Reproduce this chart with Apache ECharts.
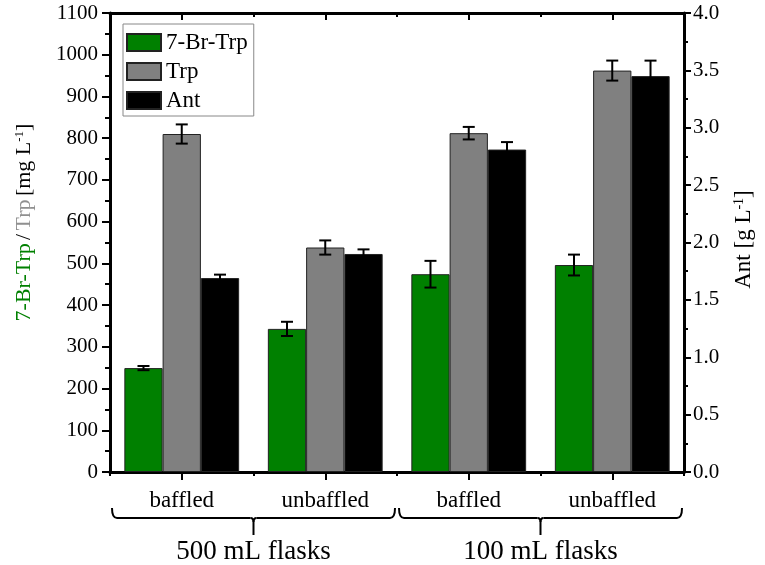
<!DOCTYPE html>
<html>
<head>
<meta charset="utf-8">
<script src="https://cdn.jsdelivr.net/npm/echarts@6.0.0/dist/echarts.min.js"></script>
<style>
  html, body { margin: 0; padding: 0; background: #fff; }
  #chart { width: 765px; height: 565px; }
</style>
</head>
<body>
<div id="chart"></div>
<script>
// data
const categories = ['baffled', 'unbaffled', 'baffled', 'unbaffled'];
const groups = ['500 mL flasks', '100 mL flasks'];
const brTrp = [249, 343, 474, 496];
const brTrpErr = [5, 17, 32, 25];
const trp = [810, 538, 812, 962];
const trpErr = [23, 17, 15, 24];
const ant = [1.69, 1.90, 2.81, 3.45];
const antErr = [0.03, 0.04, 0.065, 0.135];

const FONT = 'Liberation Serif';
const GAP = 0.2; // barCategoryGap

const chart = echarts.init(document.getElementById('chart'));

function errSeries(vals, errs, slot, yIdx) {
  return {
    type: 'custom',
    xAxisIndex: 0,
    yAxisIndex: yIdx,
    z: 5,
    silent: true,
    data: vals.map((v, i) => [i, v - errs[i], v + errs[i]]),
    renderItem(params, api) {
      const i = api.value(0);
      const bw = api.size([1, 0])[0] * (1 - GAP) / 3;
      const x = api.coord([i, 0])[0] + slot * bw;
      const lo = api.coord([i, api.value(1)])[1];
      const hi = api.coord([i, api.value(2)])[1];
      const cap = 6;
      const st = { stroke: '#000', lineWidth: 2 };
      return {
        type: 'group',
        children: [
          { type: 'line', shape: { x1: x, y1: lo, x2: x, y2: hi }, style: st },
          { type: 'line', shape: { x1: x - cap, y1: lo, x2: x + cap, y2: lo }, style: st },
          { type: 'line', shape: { x1: x - cap, y1: hi, x2: x + cap, y2: hi }, style: st }
        ]
      };
    }
  };
}

const barStyle = (c) => ({ color: c, borderColor: '#222', borderWidth: 1 });

const catBase = {
  type: 'category',
  data: categories,
  gridIndex: 0,
  axisLabel: { show: false },
  splitLine: { show: false },
  axisLine: { show: false, onZero: false }
};

chart.setOption({
  backgroundColor: '#fff',
  animation: false,
  textStyle: { fontFamily: FONT },
  grid: { left: 110, right: 81, top: 13, bottom: 93, containLabel: false, outerBoundsMode: 'none' },
  legend: {
    left: 123, top: 24,
    orient: 'vertical',
    itemWidth: 34, itemHeight: 17, itemGap: 6,
    padding: [7, 6, 4, 3],
    borderColor: '#888', borderWidth: 1,
    icon: 'rect',
    textStyle: { fontFamily: FONT, fontSize: 23, color: '#000' },
    data: ['7-Br-Trp', 'Trp', 'Ant']
  },
  xAxis: [
    {
      type: 'category',
      data: categories,
      position: 'bottom',
      axisLine: { show: true, onZero: false, lineStyle: { color: '#000', width: 3 } },
      axisTick: { show: true, alignWithLabel: true, length: 8, lineStyle: { color: '#000', width: 2 } },
      axisLabel: { fontFamily: FONT, fontSize: 23, color: '#000', margin: 17 },
      splitLine: { show: false }
    },
    Object.assign({}, catBase, {
      position: 'bottom',
      axisTick: { show: true, length: 4, lineStyle: { color: '#000', width: 2 } }
    }),
    Object.assign({}, catBase, {
      position: 'top',
      axisLine: { show: true, onZero: false, lineStyle: { color: '#000', width: 3 } },
      axisTick: { show: true, inside: true, alignWithLabel: true, length: 7, lineStyle: { color: '#000', width: 2 } }
    }),
    Object.assign({}, catBase, {
      position: 'top',
      axisTick: { show: true, inside: true, length: 4, lineStyle: { color: '#000', width: 2 } }
    }),
    {
      type: 'category',
      data: groups,
      position: 'bottom',
      offset: 58,
      axisLine: { show: false, onZero: false },
      axisTick: { show: false },
      axisLabel: { fontFamily: FONT, fontSize: 27, color: '#000', margin: 8 },
      splitLine: { show: false }
    }
  ],
  yAxis: [
    {
      type: 'value',
      min: 0, max: 1100, interval: 100,
      axisLine: { show: true, lineStyle: { color: '#000', width: 3 } },
      axisTick: { show: true, length: 8, lineStyle: { color: '#000', width: 2 } },
      minorTick: { show: true, splitNumber: 2, length: 5, lineStyle: { color: '#000', width: 2 } },
      axisLabel: { fontFamily: FONT, fontSize: 21, color: '#000', margin: 12, formatter: (v) => String(v) },
      splitLine: { show: false }
    },
    {
      type: 'value',
      position: 'right',
      min: 0, max: 4, interval: 0.5,
      axisLine: { show: true, lineStyle: { color: '#000', width: 3 } },
      axisTick: { show: true, length: 7, lineStyle: { color: '#000', width: 2 } },
      minorTick: { show: true, splitNumber: 2, length: 4, lineStyle: { color: '#000', width: 2 } },
      axisLabel: {
        fontFamily: FONT, fontSize: 21, color: '#000', margin: 9,
        formatter: (v) => v.toFixed(1)
      },
      splitLine: { show: false }
    }
  ],
  series: [
    { name: '7-Br-Trp', type: 'bar', xAxisIndex: 0, yAxisIndex: 0, data: brTrp,
      barGap: '0%', barCategoryGap: '20%', itemStyle: barStyle('#008000') },
    { name: 'Trp', type: 'bar', xAxisIndex: 0, yAxisIndex: 0, data: trp,
      barGap: '0%', barCategoryGap: '20%', itemStyle: barStyle('#808080') },
    { name: 'Ant', type: 'bar', xAxisIndex: 0, yAxisIndex: 1, data: ant,
      barGap: '0%', barCategoryGap: '20%', itemStyle: barStyle('#000000') },
    errSeries(brTrp, brTrpErr, -1, 0),
    errSeries(trp, trpErr, 0, 0),
    errSeries(ant, antErr, 1, 1)
  ]
});

// axis names and the group brackets, placed from the axis positions
function drawExtras() {
  const x0 = chart.convertToPixel({ xAxisIndex: 0 }, 0);
  const x1 = chart.convertToPixel({ xAxisIndex: 0 }, 1);
  const band = x1 - x0;
  const yTop = chart.convertToPixel({ yAxisIndex: 0 }, 1100);
  const yBot = chart.convertToPixel({ yAxisIndex: 0 }, 0);
  const yMid = (yTop + yBot) / 2;
  const left = x0 - band / 2;
  const elems = [];
  const st = { stroke: '#000', lineWidth: 2, fill: null };

  groups.forEach((g, gi) => {
    const a = left + gi * 2 * band + 2;
    const b = left + (gi + 1) * 2 * band - 2;
    const m = (a + b) / 2;
    const y = yBot + 46, up = 10, dn = 17;
    elems.push(
      { type: 'bezierCurve', shape: { x1: a, y1: y - up, x2: a + 5, y2: y, cpx1: a, cpy1: y }, style: st },
      { type: 'line', shape: { x1: a + 5, y1: y, x2: m - 3, y2: y }, style: st },
      { type: 'bezierCurve', shape: { x1: m - 3, y1: y, x2: m, y2: y + 4, cpx1: m, cpy1: y }, style: st },
      { type: 'bezierCurve', shape: { x1: m + 3, y1: y, x2: m, y2: y + 4, cpx1: m, cpy1: y }, style: st },
      { type: 'line', shape: { x1: m, y1: y + 4, x2: m, y2: y + dn }, style: st },
      { type: 'line', shape: { x1: m + 3, y1: y, x2: b - 5, y2: y }, style: st },
      { type: 'bezierCurve', shape: { x1: b - 5, y1: y, x2: b, y2: y - up, cpx1: b, cpy1: y }, style: st }
    );
  });

  elems.push({
    type: 'text',
    x: 24, y: yMid - 20,
    rotation: Math.PI / 2,
    style: {
      text: '{g|7-Br-Trp} {k|/} {s|Trp} {k|[mg L}{sup|-1}{k|]}',
      align: 'center', verticalAlign: 'middle',
      rich: {
        g: { fontFamily: FONT, fontSize: 22, fill: '#008000' },
        s: { fontFamily: FONT, fontSize: 22, fill: '#909090' },
        k: { fontFamily: FONT, fontSize: 22, fill: '#000' },
        sup: { fontFamily: FONT, fontSize: 13, fill: '#000', verticalAlign: 'top', padding: [0, 0, 8, 0] }
      }
    }
  });
  elems.push({
    type: 'text',
    x: 744, y: yMid - 3,
    rotation: Math.PI / 2,
    style: {
      text: '{k|Ant [g L}{sup|-1}{k|]}',
      align: 'center', verticalAlign: 'middle',
      rich: {
        k: { fontFamily: FONT, fontSize: 23, fill: '#000' },
        sup: { fontFamily: FONT, fontSize: 14, fill: '#000', verticalAlign: 'top', padding: [0, 0, 8, 0] }
      }
    }
  });
  chart.setOption({ graphic: elems });
}
drawExtras();
</script>
</body>
</html>
